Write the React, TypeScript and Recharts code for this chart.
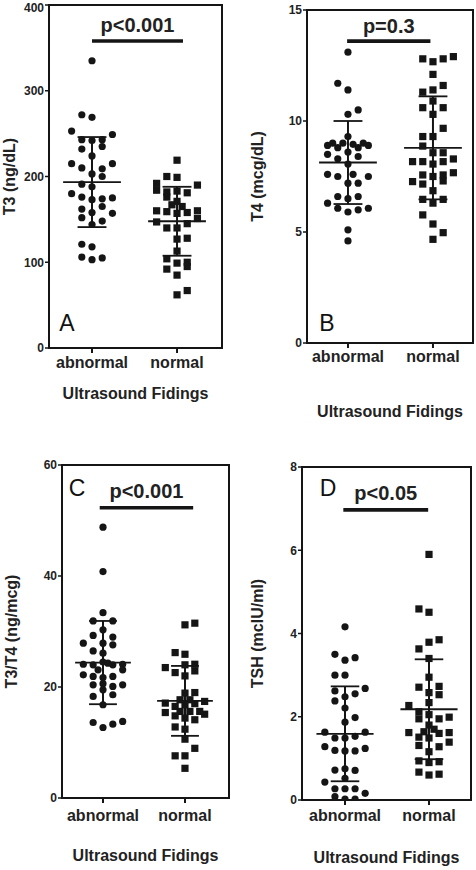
import React from "react";
import {
  ScatterChart, Scatter, XAxis, YAxis, ReferenceLine, ReferenceArea, ReferenceDot, Label,
} from "recharts";

const groups = ["abnormal", "normal"];
const xTitle = "Ultrasound Fidings";

// T3 (ng/dL)
const t3Ticks = [0, 100, 200, 300, 400];
const t3Abnormal = [335, 272, 269, 253, 249, 243, 242, 243, 232, 235, 224, 215, 210, 209, 215, 203, 200, 191, 188, 180, 176, 173, 174, 175, 165, 162, 158, 157, 152, 148, 144, 121, 118, 106, 103, 105];
const t3Normal = [219, 200, 199, 192, 190, 184, 182, 176, 183, 181, 171, 167, 165, 160, 159, 157, 158, 160, 147, 151, 145, 140, 140, 127, 128, 113, 104, 99, 100, 95, 92, 85, 62, 67];
const t3Mean = [193.5, 147.8];
const t3Sd = [52.5, 40.2];

// T4 (mcg/dL)
const t4Ticks = [0, 5, 10, 15];
const t4Abnormal = [13.1, 11.7, 11.4, 10.5, 10.3, 9.3, 8.9, 9.0, 8.8, 9.0, 8.95, 8.8, 9.0, 8.9, 8.6, 8.5, 8.3, 8.4, 8.06, 7.6, 7.5, 7.6, 7.5, 7.2, 7.2, 6.6, 6.5, 6.6, 6.3, 6.07, 5.9, 6.0, 6.07, 5.1, 4.6];
const t4Normal = [12.8, 12.67, 12.8, 12.9, 12.1, 11.3, 11.4, 11.6, 10.9, 10.6, 10.6, 10.3, 9.67, 9.3, 9.3, 8.87, 8.57, 8.57, 8.17, 8.17, 8.06, 8.17, 8.29, 7.57, 7.5, 7.57, 7.3, 7.67, 7.27, 7.16, 6.86, 6.47, 6.3, 6.47, 5.77, 5.36, 4.97, 4.67];
const t4Mean = [8.13, 8.79];
const t4Sd = [1.87, 2.32];

// T3/T4 (ng/mcg)
const ratioTicks = [0, 20, 40, 60];
const ratioAbnormal = [48.8, 40.8, 33.4, 31.9, 31.9, 30.3, 29.3, 29.0, 27.9, 27.9, 27.6, 26.5, 26.1, 24.1, 24.0, 24.5, 24.3, 24.0, 24.1, 23.1, 23.1, 22.2, 21.9, 21.7, 21.9, 20.4, 20.6, 20.4, 20.1, 19.5, 18.3, 18.6, 16.8, 13.6, 12.7, 13.3, 13.8];
const ratioNormal = [31.2, 31.5, 26.2, 25.9, 23.5, 24.0, 24.1, 22.9, 22.6, 22.0, 18.9, 19.0, 17.1, 17.7, 17.7, 17.4, 16.5, 16.8, 17.0, 15.4, 15.6, 15.6, 15.6, 15.1, 14.8, 14.4, 14.1, 12.8, 12.4, 10.6, 8.95, 7.6, 7.6, 5.35];
const ratioMean = [24.4, 17.5];
const ratioSd = [7.5, 6.3];

// TSH (mcIU/ml)
const tshTicks = [0, 2, 4, 6, 8];
const tshAbnormal = [4.16, 3.5, 3.36, 3.42, 3.0, 3.0, 2.62, 2.48, 2.55, 2.68, 2.38, 2.21, 1.87, 1.98, 1.63, 1.63, 1.49, 1.49, 1.53, 1.28, 1.19, 1.18, 1.18, 1.24, 0.72, 0.75, 0.71, 0.43, 0.52, 0.27, 0.27, 0.27, 0.16, 0.08, 0.02, 0.02];
const tshNormal = [5.9, 4.59, 4.51, 3.79, 3.85, 3.63, 3.4, 2.95, 2.71, 2.73, 2.58, 2.53, 2.27, 2.34, 2.12, 1.95, 2.05, 1.95, 1.99, 1.8, 1.62, 1.64, 1.7, 1.6, 1.62, 1.51, 1.49, 1.39, 1.31, 1.28, 1.16, 0.94, 0.9, 0.92, 0.67, 0.6, 0.62];
const tshMean = [1.59, 2.18];
const tshSd = [1.14, 1.2];

// column slot of each point in the scatter layout (same order as values)
const t3AbnCols = [0, -1, 0, -2, 2, -1, 0, 1, -1, 1, 0, -2, -1, 1, 2, 0, 1, -1, 0, -2, -1, 0, 1, 2, 1, -1, 0, 2, -1, 1, 0, -1, 0, -1, 0, 1];
const t3NorCols = [0, -1, 0, -2, 2, -2, -1, -1, 0, 1, 0, -0.5, 0.5, -2, -1, 0, 1, 2, -2, 2, 1, -1, 0, 0, 1, 0, -1, 0, 1, 1, -1, 0, 0, 1];
const t4AbnCols = [0, -1, 0, 1, 0, 0, -2, -1.5, -1, -0.5, 0.5, 1, 1.5, 2, 0, -2, -1, 1, 0, -2, -1, 0.5, 2, 0, 1, -1, 0, 1, -2, -1, 0, 1, 2, 0, 0];
const t4NorCols = [-1, 0, 1, 2, 0, -1, 0, 1, 0, -1, 1, 0, 1, -1, 0, -1, 0, 1, -2, -1, 0, 1, 2, -1, 0, 1, 1, 2, -2, -1, 0, -1, 0, 1, -1, 0, 1, 0];
const ratioAbnCols = [0, 0, 0, -1, 1, 0, -1, 1, -2, 0, 1, -1, 0, -2, -1, 0, 0.5, 1, 2, -0.5, 2, -2, -1, 0, 1, -1, 0, 2, 1, 0, -1, 1, 0, -1, 0, 1, 2];
const ratioNorCols = [0, 1, -1, 0, -2, 0, 1, 1, -1, 0, 0, 1, -2, -0.5, 0.5, 2, -1, 0, 1, -2, -0.5, 0.5, 1.5, 2, -1, 0, 1, -1, 0, 0, 1, -1, 0, 0];
const tshAbnCols = [0, -1, 0, 1, -1, 0, -1, 0, 1, 2, -1, 0, 0, 1, -2, 2, -1, 0, 1, -2, -1, 0, 1, 2, -1, 0, 1, -2, 0, -1, 0, 1, 2, -1, 0, 1];
const tshNorCols = [0, -1, 0, 0, 1, -1, 0, 0, -1, 1, 0, 1, -2, 0, -1, -1, 0, 1, 2, 0, -2, -0.5, 0.5, 1, 2, -1, 0, 2, -1, 1, 0, -1, 0, 1, -1, 0, 1];

const COL = 0.12;
const INK = "#151515";
const FONT = "'Liberation Sans', Arial, Helvetica, sans-serif";

function toPoints(vals: number[], cols: number[], g: number) {
  return vals.map((v, i) => ({ x: g + (cols[i] ?? 0) * COL, y: v }));
}

const Dot = (p: any) => <circle cx={p.cx} cy={p.cy} r={3.6} fill={INK} />;
const Sq = (p: any) => <rect x={p.cx - 3.6} y={p.cy - 3.6} width={7.2} height={7.2} fill={INK} />;

type PanelCfg = {
  left: number; top: number; w: number; h: number;
  plotL: number; plotT: number; plotR: number; plotB: number;
  xDomain: [number, number]; yTicks: number[];
  abn: number[]; nor: number[]; abnCols: number[]; norCols: number[];
  mean: number[]; sd: number[];
  yLabel: string; yLabelX: number; tickBase: number; titleBase: number;
  letter: string; letterAt: [number, number];
  pText: string; bar: [number, number, number]; pGap: number;
};

function Panel({ c }: { c: PanelCfg }) {
  const yMax = c.yTicks[c.yTicks.length - 1];
  const midY = (c.plotT + c.plotB) / 2 - c.top;
  const midX = (c.plotL + c.plotR) / 2 - c.left;
  const lines: React.ReactNode[] = [];
  [1, 2].forEach((g, i) => {
    const m = c.mean[i], s = c.sd[i];
    lines.push(
      <ReferenceLine key={`m${g}`} segment={[{ x: g - 0.34, y: m }, { x: g + 0.34, y: m }]} stroke={INK} strokeWidth={1.8} ifOverflow="visible" />,
      <ReferenceLine key={`v${g}`} segment={[{ x: g, y: m - s }, { x: g, y: m + s }]} stroke={INK} strokeWidth={2} ifOverflow="visible" />,
      <ReferenceLine key={`t${g}`} segment={[{ x: g - 0.17, y: m + s }, { x: g + 0.17, y: m + s }]} stroke={INK} strokeWidth={1.8} ifOverflow="visible" />,
      <ReferenceLine key={`b${g}`} segment={[{ x: g - 0.17, y: m - s }, { x: g + 0.17, y: m - s }]} stroke={INK} strokeWidth={1.8} ifOverflow="visible" />,
    );
  });
  return (
    <div style={{ position: "absolute", left: c.left, top: c.top, width: c.w, height: c.h }}>
      <ScatterChart
        width={c.w}
        height={c.h}
        margin={{ top: c.plotT - c.top, right: c.left + c.w - c.plotR, bottom: 0, left: 0 }}
        style={{ fontFamily: FONT }}
      >
        <XAxis
          type="number"
          dataKey="x"
          domain={c.xDomain}
          ticks={[1, 2]}
          allowDataOverflow
          height={c.top + c.h - c.plotB}
          axisLine={{ stroke: INK, strokeWidth: 2 }}
          tickLine={{ stroke: INK, strokeWidth: 2 }}
          tickSize={5}
          tickMargin={0}
          tick={(p: any) => (
            <text x={p.x} y={p.y - 5 + c.tickBase} textAnchor="middle" fontSize={16} fontWeight="bold" fill="#222" fontFamily={FONT}>
              {groups[Math.round(p.payload.value) - 1]}
            </text>
          )}
        >
          <Label
            content={() => (
              <text x={midX} y={c.titleBase - c.top} textAnchor="middle" fontSize={16} fontWeight="bold" fill="#222" fontFamily={FONT}>
                {xTitle}
              </text>
            )}
          />
        </XAxis>
        <YAxis
          type="number"
          dataKey="y"
          domain={[0, yMax]}
          ticks={c.yTicks}
          allowDataOverflow
          width={c.plotL - c.left}
          axisLine={{ stroke: INK, strokeWidth: 2 }}
          tickLine={{ stroke: INK, strokeWidth: 1.5 }}
          tickSize={4}
          tickMargin={1}
          tick={{ fontSize: 12, fontWeight: "bold", fill: "#222", fontFamily: FONT }}
        >
          <Label
            content={() => (
              <text
                x={c.yLabelX - c.left}
                y={midY}
                dy="0.35em"
                transform={`rotate(-90 ${c.yLabelX - c.left} ${midY})`}
                textAnchor="middle"
                fontSize={16}
                fontWeight="bold"
                fill="#222"
                fontFamily={FONT}
              >
                {c.yLabel}
              </text>
            )}
          />
        </YAxis>
        <ReferenceArea x1={c.xDomain[0]} x2={c.xDomain[1]} y1={0} y2={yMax} fill="none" stroke={INK} strokeWidth={2} ifOverflow="visible" />
        <Scatter data={toPoints(c.abn, c.abnCols, 1)} shape={Dot} isAnimationActive={false} />
        <Scatter data={toPoints(c.nor, c.norCols, 2)} shape={Sq} isAnimationActive={false} />
        {lines}
        <ReferenceLine segment={[{ x: c.bar[0], y: c.bar[2] }, { x: c.bar[1], y: c.bar[2] }]} stroke={INK} strokeWidth={3.6} ifOverflow="visible">
          <Label value={c.pText} position="top" offset={c.pGap} fontSize={20} fontWeight="bold" fill="#222" fontFamily={FONT} />
        </ReferenceLine>
        <ReferenceDot x={c.letterAt[0]} y={c.letterAt[1]} r={0} fill="none" stroke="none" ifOverflow="visible">
          <Label value={c.letter} position="center" fontSize={23} fill="#111" fontFamily={FONT} />
        </ReferenceDot>
      </ScatterChart>
    </div>
  );
}

const panels: PanelCfg[] = [
  {
    left: 0, top: 0, w: 240, h: 430, plotL: 49, plotT: 5, plotR: 222, plotB: 348,
    xDomain: [0.494, 2.529], yTicks: t3Ticks, abn: t3Abnormal, nor: t3Normal, abnCols: t3AbnCols, norCols: t3NorCols,
    mean: t3Mean, sd: t3Sd, yLabel: "T3 (ng/dL)", yLabelX: 9, tickBase: 20.3, titleBase: 399,
    letter: "A", letterAt: [0.706, 29], pText: "p<0.001", bar: [1, 2.07, 358], pGap: 9,
  },
  {
    left: 240, top: 0, w: 236, h: 430, plotL: 307, plotT: 10, plotR: 473, plotB: 343,
    xDomain: [0.518, 2.471], yTicks: t4Ticks, abn: t4Abnormal, nor: t4Normal, abnCols: t4AbnCols, norCols: t4NorCols,
    mean: t4Mean, sd: t4Sd, yLabel: "T4 (mcg/dL)", yLabelX: 257, tickBase: 18.7, titleBase: 416.5,
    letter: "B", letterAt: [0.753, 0.9], pText: "p=0.3", bar: [0.99, 1.97, 13.6], pGap: 8,
  },
  {
    left: 0, top: 430, w: 240, h: 440, plotL: 62, plotT: 465, plotR: 229, plotB: 798,
    xDomain: [0.5, 2.537], yTicks: ratioTicks, abn: ratioAbnormal, nor: ratioNormal, abnCols: ratioAbnCols, norCols: ratioNorCols,
    mean: ratioMean, sd: ratioSd, yLabel: "T3/T4 (ng/mcg)", yLabelX: 11, tickBase: 22.7, titleBase: 860.7,
    letter: "C", letterAt: [0.683, 55.9], pText: "p<0.001", bar: [0.96, 2.1, 52.3], pGap: 10,
  },
  {
    left: 240, top: 430, w: 236, h: 440, plotL: 302, plotT: 467, plotR: 471, plotB: 800,
    xDomain: [0.488, 2.5], yTicks: tshTicks, abn: tshAbnormal, nor: tshNormal, abnCols: tshAbnCols, norCols: tshNorCols,
    mean: tshMean, sd: tshSd, yLabel: "TSH (mcIU/ml)", yLabelX: 257, tickBase: 21, titleBase: 862.7,
    letter: "D", letterAt: [0.798, 7.5], pText: "p<0.05", bar: [0.98, 1.99, 6.97], pGap: 10,
  },
];

export default function App() {
  return (
    <div style={{ position: "absolute", left: 0, top: 0, width: 476, height: 870, background: "#fff" }}>
      {panels.map((c) => (
        <Panel key={c.letter} c={c} />
      ))}
    </div>
  );
}
